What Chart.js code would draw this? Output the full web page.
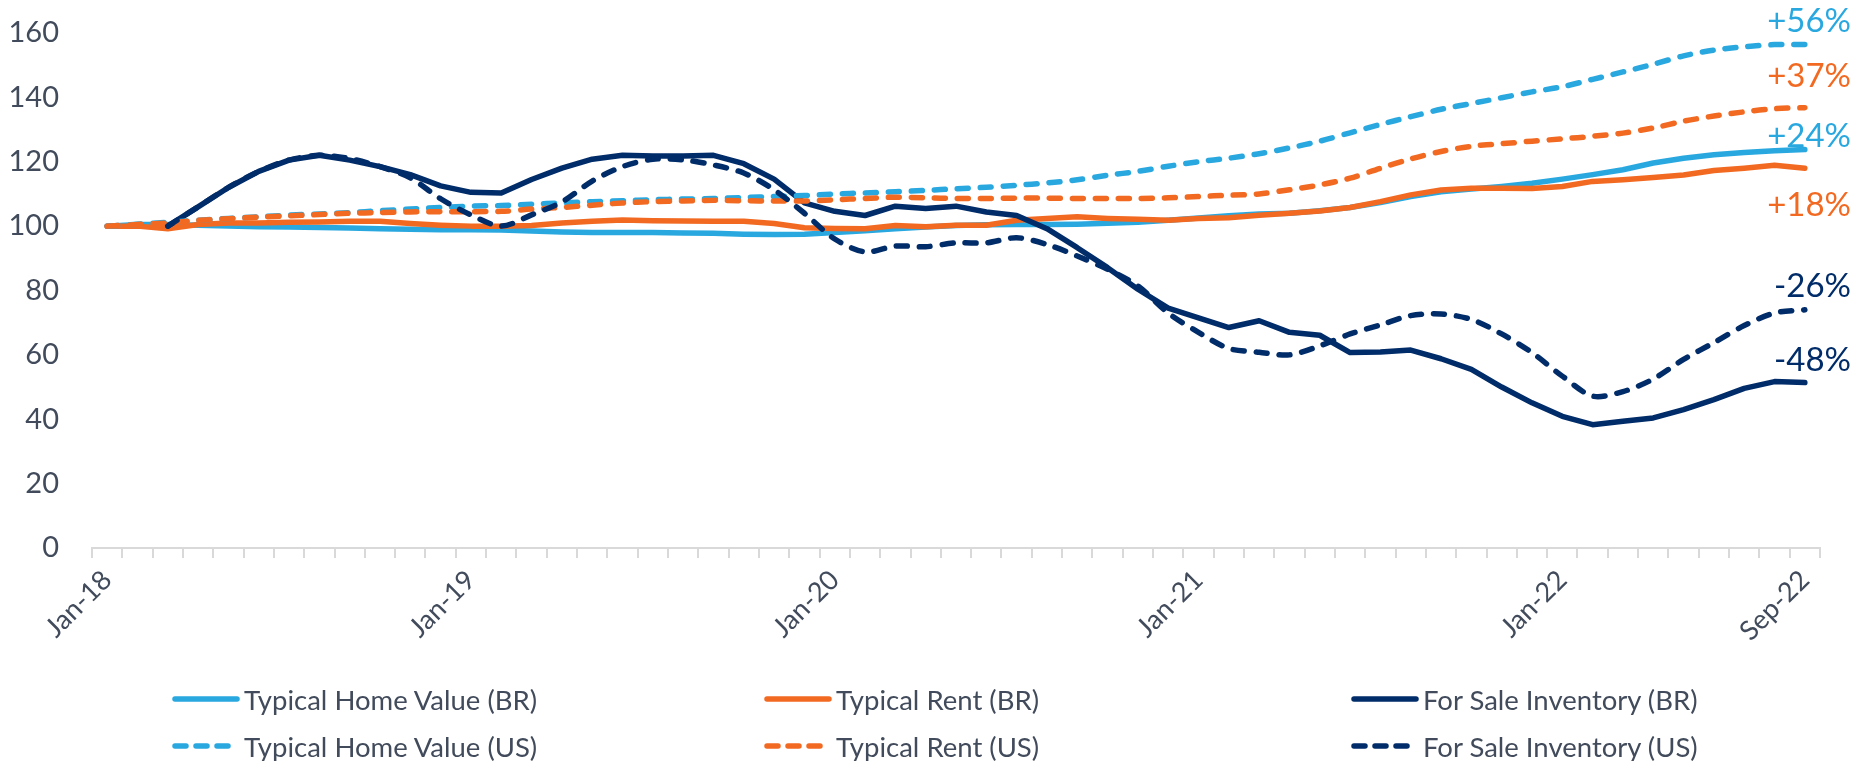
<!DOCTYPE html>
<html>
<head>
<meta charset="utf-8">
<title>Typical home value, rent and for-sale inventory</title>
<script src="https://cdn.jsdelivr.net/npm/chart.js@4.4.1/dist/chart.umd.min.js"></script>
<style>
  body { margin: 0; background: #fff; }
  #wrap { position: relative; width: 1858px; height: 761px; }
  #legend { position: absolute; left: 0; top: 0; width: 100%; height: 100%; pointer-events: none;
            font-family: Lato, sans-serif; font-size: 27.5px; color: #414b5b; }
  .item { position: absolute; display: flex; align-items: center; height: 34px; white-space: nowrap; transform: translateY(-50%); }
  .item svg { margin-right: 4px; }
</style>
</head>
<body>
<div id="wrap">
  <canvas id="chart" width="1858" height="761"></canvas>
  <div id="legend"></div>
</div>
<script>
const months = [
  'Jan-18','Feb-18','Mar-18','Apr-18','May-18','Jun-18','Jul-18','Aug-18','Sep-18','Oct-18','Nov-18','Dec-18',
  'Jan-19','Feb-19','Mar-19','Apr-19','May-19','Jun-19','Jul-19','Aug-19','Sep-19','Oct-19','Nov-19','Dec-19',
  'Jan-20','Feb-20','Mar-20','Apr-20','May-20','Jun-20','Jul-20','Aug-20','Sep-20','Oct-20','Nov-20','Dec-20',
  'Jan-21','Feb-21','Mar-21','Apr-21','May-21','Jun-21','Jul-21','Aug-21','Sep-21','Oct-21','Nov-21','Dec-21',
  'Jan-22','Feb-22','Mar-22','Apr-22','May-22','Jun-22','Jul-22','Aug-22','Sep-22'
];
const shownTicks = ['Jan-18', 'Jan-19', 'Jan-20', 'Jan-21', 'Jan-22', 'Sep-22'];

const homeValueBR = [100, 100.5, 100.5, 100.3, 100, 99.8, 99.7, 99.6, 99.4, 99.2, 99, 98.9,
  98.9, 98.8, 98.5, 98.2, 98, 98, 98, 97.9, 97.8, 97.5, 97.4, 97.5,
  98, 98.6, 99.2, 99.7, 100.2, 100.4, 100.5, 100.5, 100.6, 100.9, 101.2, 101.8,
  102.5, 103.2, 103.8, 104, 104.8, 105.8, 107.3, 109.2, 110.7, 111.5, 112.3, 113.3,
  114.6, 116, 117.5, 119.6, 121.1, 122.2, 122.9, 123.4, 123.8];
const rentBR = [100, 100, 99.2, 100.5, 101, 101, 101.2, 101.3, 101.5, 101.5, 100.8, 100.3,
  100, 100, 100.2, 101, 101.5, 101.9, 101.7, 101.6, 101.5, 101.5, 100.8, 99.5,
  99.3, 99.2, 100.2, 99.8, 100.3, 100.3, 101.8, 102.4, 102.9, 102.4, 102.1, 101.8,
  102.4, 102.6, 103.4, 104, 104.7, 105.8, 107.6, 109.7, 111.2, 111.8, 111.8, 111.7,
  112.3, 113.9, 114.4, 115.1, 115.9, 117.3, 118, 118.9, 118];
const inventoryBR = [null, null, 100, 106, 112, 117, 120.5, 122, 120.5, 118.5, 116, 112.5,
  110.5, 110.3, 114.5, 118, 120.8, 122, 121.8, 121.8, 122, 119.4, 114.6, 107.2,
  104.6, 103.3, 106.2, 105.5, 106.2, 104.4, 103.3, 99.2, 93.3, 87.1, 80.4, 74.5,
  71.5, 68.5, 70.6, 67, 66.1, 60.7, 60.9, 61.5, 58.8, 55.5, 50, 45.1,
  40.9, 38.3, 39.4, 40.4, 43, 46.1, 49.6, 51.7, 51.4];
const homeValueUS = [100, 100.6, 101.2, 101.8, 102.4, 102.9, 103.4, 103.8, 104.2, 104.8, 105.3, 105.8,
  106.2, 106.4, 106.8, 107.2, 107.6, 107.9, 108.2, 108.4, 108.6, 108.9, 109.2, 109.5,
  110, 110.3, 110.7, 111.1, 111.6, 112.1, 112.7, 113.4, 114.4, 115.8, 117, 118.6,
  120, 121.1, 122.5, 124.3, 126.4, 129, 131.6, 134, 136.3, 138.1, 139.9, 141.7,
  143.3, 145.6, 147.9, 150.3, 152.9, 154.7, 155.7, 156.4, 156.4];
const rentUS = [100, 100.5, 101, 101.8, 102.3, 102.8, 103.2, 103.6, 104, 104.2, 104.4, 104.5,
  104.5, 104.6, 105.3, 105.8, 106.5, 107.2, 107.6, 107.8, 108, 107.9, 107.8, 107.8,
  108.2, 108.6, 109, 108.8, 108.6, 108.6, 108.7, 108.7, 108.6, 108.6, 108.6, 108.8,
  109.2, 109.6, 110, 111.3, 112.8, 114.9, 118, 120.9, 123.2, 124.8, 125.6, 126.4,
  127.1, 127.9, 128.9, 130.5, 132.6, 134.2, 135.5, 136.5, 136.8];
const inventoryUS = [null, null, 100, 106, 112, 117, 120.5, 122, 121, 118.5, 115, 108.5,
  103.5, 100, 103.5, 107.5, 114, 118.5, 120.8, 120.6, 119, 116.5, 111.3, 104,
  96, 92, 93.8, 93.6, 94.8, 94.8, 96.4, 94.3, 90.7, 86.6, 81.4, 73,
  67, 62, 60.8, 60, 62.8, 66.5, 69.3, 72.2, 72.7, 71, 66.5, 60.7,
  53.4, 47.2, 48.6, 52.5, 58.6, 63.8, 69.1, 73, 74];

const seriesNames = ['Typical Home Value (BR)', 'Typical Rent (BR)', 'For Sale Inventory (BR)',
  'Typical Home Value (US)', 'Typical Rent (US)', 'For Sale Inventory (US)'];
const endLabels = ['+24%', '+18%', '-48%', '+56%', '+37%', '-26%'];

// styling
const lightBlue = '#29A8E0';
const orange = '#F26A22';
const navy = '#002C69';
const textGray = '#414b5b';
const seriesColors = [lightBlue, orange, navy, lightBlue, orange, navy];
const dashPattern = [11, 12];
const labelShift = [-13, 37, -22, -23, -31, -23];

const seriesData = [homeValueBR, rentBR, inventoryBR, homeValueUS, rentUS, inventoryUS];

const datasets = seriesData.map((values, i) => ({
  label: seriesNames[i],
  data: values,
  borderColor: seriesColors[i],
  backgroundColor: seriesColors[i],
  borderWidth: 5.5,
  borderDash: i >= 3 ? dashPattern : [],
  borderCapStyle: 'round',
  borderJoinStyle: 'round',
  pointRadius: 0,
  tension: i >= 3 ? 0.3 : 0,
  fill: false,
  order: 6 - i
}));

const endLabelPlugin = {
  id: 'endLabels',
  afterDatasetsDraw(chart) {
    const ctx = chart.ctx;
    ctx.save();
    ctx.font = '33px Lato';
    ctx.textAlign = 'right';
    ctx.textBaseline = 'middle';
    chart.data.datasets.forEach((ds, i) => {
      const meta = chart.getDatasetMeta(i);
      const last = meta.data[meta.data.length - 1];
      ctx.fillStyle = ds.borderColor;
      ctx.fillText(endLabels[i], chart.chartArea.right + 31, last.y + labelShift[i]);
    });
    ctx.restore();
  }
};

const chart = new Chart(document.getElementById('chart'), {
  type: 'line',
  data: { labels: months, datasets: datasets },
  options: {
    responsive: false,
    animation: false,
    devicePixelRatio: 1,
    layout: { padding: { top: 33, right: 38, bottom: 103, left: 0 } },
    plugins: {
      legend: { display: false },
      tooltip: { enabled: false }
    },
    scales: {
      x: {
        offset: true,
        grid: { offset: true, drawOnChartArea: false, drawTicks: true, tickLength: 10, color: '#D9D9D9', lineWidth: 2 },
        border: { display: true, color: '#D9D9D9', width: 2 },
        ticks: {
          autoSkip: false,
          minRotation: 45,
          maxRotation: 45,
          padding: 6,
          color: textGray,
          font: { family: 'Lato', size: 27 },
          callback: function (value) {
            const name = this.getLabelForValue(value);
            return shownTicks.includes(name) ? name : '';
          }
        },
        afterFit(scale) { scale.height = 110; }
      },
      y: {
        min: 0,
        max: 160,
        // tick marks hidden, their length only pushes the labels left
        grid: { display: false, drawTicks: true, tickLength: 26 },
        border: { display: false },
        ticks: { stepSize: 20, padding: 7, color: textGray, font: { family: 'Lato', size: 29 } },
        afterFit(scale) { scale.width = 92; }
      }
    }
  },
  plugins: [endLabelPlugin]
});

// legend in three columns, two rows
const legendCols = [172, 764, 1351];
const legendRows = [699, 746];
const legend = document.getElementById('legend');
datasets.forEach((ds, k) => {
  const item = document.createElement('div');
  item.className = 'item';
  item.style.left = legendCols[k % 3] + 'px';
  item.style.top = legendRows[Math.floor(k / 3)] + 'px';
  const dash = ds.borderDash.length ? ` stroke-dasharray="11 10"` : '';
  item.innerHTML = `<svg width="68" height="10"><line x1="3" y1="5" x2="65" y2="5" stroke="${ds.borderColor}"
    stroke-width="5.5" stroke-linecap="round"${dash}/></svg><span>${ds.label}</span>`;
  legend.appendChild(item);
});
</script>
</body>
</html>
